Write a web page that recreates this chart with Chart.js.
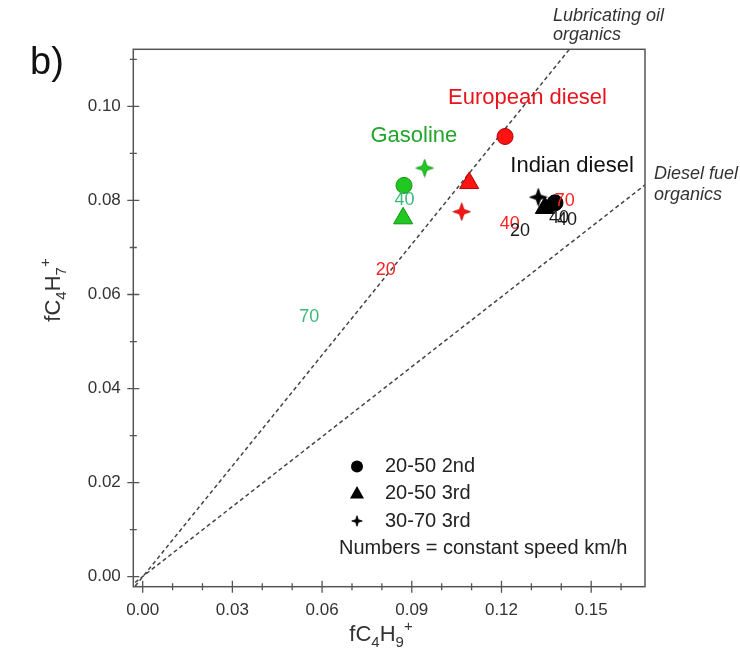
<!DOCTYPE html>
<html>
<head>
<meta charset="utf-8">
<script src="https://cdn.jsdelivr.net/npm/chart.js@4.4.1/dist/chart.umd.min.js"></script>
<style>
    html, body { margin: 0; padding: 0; background: #fff; }
</style>
</head>
<body>
<canvas id="scatterChart" width="740" height="661"></canvas>
<script>
//============================================= Data =============================================//
const xTicks = [0, 0.03, 0.06, 0.09, 0.12, 0.15];
const yTicks = [0, 0.02, 0.04, 0.06, 0.08, 0.10];
const xMinor = [0.01, 0.02, 0.04, 0.05, 0.07, 0.08, 0.10, 0.11, 0.13, 0.14, 0.16];
const yMinor = [0.01, 0.03, 0.05, 0.07, 0.09, 0.11];

// point order in each fuel: 20-50 2nd, 20-50 3rd, 30-70 3rd
const fuels = ['European diesel', 'Gasoline', 'Indian diesel'];
const europeanX = [0.1212, 0.1092, 0.1067];
const europeanY = [0.0936, 0.0837, 0.0776];
const gasolineX = [0.0874, 0.0871, 0.0943];
const gasolineY = [0.0832, 0.0762, 0.0869];
const indianX = [0.1379, 0.1345, 0.1323];
const indianY = [0.0795, 0.0784, 0.0807];

// constant speed labels (km/h), fuel index gives the colour
const speedText = ['70', '40', '40', '40', '20', '40', '20', '70'];
const speedX = [0.1412, 0.1392, 0.1419, 0.1228, 0.1262, 0.0876, 0.0813, 0.0557];
const speedY = [0.0799, 0.0763, 0.0758, 0.0750, 0.0734, 0.0801, 0.0652, 0.0552];
const speedFuel = [0, 2, 2, 0, 2, 1, 0, 1];

// fuel name positions
const fuelLabelX = [0.1287, 0.0907, 0.1436];
const fuelLabelY = [0.1017, 0.0937, 0.0873];

// reference lines
const lubOilX = [-0.0025, 0.1428];
const lubOilY = [-0.0020, 0.1122];
const dieselFuelX = [-0.0025, 0.168];
const dieselFuelY = [-0.0012, 0.0833];

const legendText = ['20-50 2nd', '20-50 3rd', '30-70 3rd'];

//============================================= Styles =============================================//
const FONT = "'Liberation Sans', Arial, sans-serif";
const markerFill = ['#ff1212', '#22c822', '#000000'];
const markerEdge = ['#b00000', '#109010', '#000000'];
const fuelColor = ['#e8141c', '#22a52a', '#111111'];
const speedColor = ['#ff2424', '#3cb878', '#1a1a1a'];

function starImage(size, fill, edge) {
    const c = document.createElement('canvas');
    c.width = c.height = size;
    const ctx = c.getContext('2d');
    const m = size / 2, R = size / 2 - 0.7, r = R * 0.36;
    ctx.beginPath();
    for (let i = 0; i < 8; i++) {
        const a = i * Math.PI / 4 - Math.PI / 2;
        const rad = i % 2 ? r : R;
        ctx.lineTo(m + rad * Math.cos(a), m + rad * Math.sin(a));
    }
    ctx.closePath();
    ctx.fillStyle = fill;
    ctx.fill();
    ctx.lineWidth = 0.8;
    ctx.strokeStyle = edge;
    ctx.stroke();
    return c;
}

const toPoints = (xs, ys) => xs.map((x, i) => ({ x: x, y: ys[i] }));

function fuelDataset(i, xs, ys) {
    return {
        type: 'scatter',
        label: fuels[i],
        data: toPoints(xs, ys),
        pointStyle: ['circle', 'triangle', starImage(19, markerFill[i], markerEdge[i])],
        pointRadius: [8, 11, 9],
        backgroundColor: markerFill[i],
        borderColor: markerEdge[i],
        borderWidth: 1,
        order: 1
    };
}

function refLine(xs, ys) {
    return {
        type: 'line',
        data: toPoints(xs, ys),
        borderColor: '#444',
        borderWidth: 1.5,
        borderDash: [4, 3],
        pointRadius: 0,
        fill: false,
        order: 2
    };
}

//============================================= Decorations =============================================//
function drawFormula(ctx, parts, size) {
    // parts: [text, 0 normal | 1 subscript | 2 superscript], drawn centred on 0,0
    const small = Math.round(size * 0.68);
    let width = 0;
    parts.forEach(p => {
        ctx.font = (p[1] ? small : size) + 'px ' + FONT;
        width += ctx.measureText(p[0]).width;
    });
    let x = -width / 2;
    ctx.textAlign = 'left';
    ctx.textBaseline = 'alphabetic';
    parts.forEach(p => {
        ctx.font = (p[1] ? small : size) + 'px ' + FONT;
        const dy = p[1] === 1 ? size * 0.28 : (p[1] === 2 ? -size * 0.45 : 0);
        ctx.fillText(p[0], x, size * 0.36 + dy);
        x += ctx.measureText(p[0]).width;
    });
}

const decor = {
    id: 'decor',
    afterDraw(chart) {
        const { ctx, chartArea: a, scales } = chart;
        const sx = scales.x, sy = scales.y;
        ctx.save();

        // frame
        ctx.strokeStyle = '#555';
        ctx.lineWidth = 1.5;
        ctx.strokeRect(a.left, a.top, a.right - a.left, a.bottom - a.top);

        // tick marks crossing the axes
        ctx.lineWidth = 1.3;
        ctx.beginPath();
        xTicks.forEach(v => { const p = sx.getPixelForValue(v); ctx.moveTo(p, a.bottom - 6); ctx.lineTo(p, a.bottom + 6); });
        xMinor.forEach(v => { const p = sx.getPixelForValue(v); ctx.moveTo(p, a.bottom - 3.5); ctx.lineTo(p, a.bottom + 3.5); });
        yTicks.forEach(v => { const p = sy.getPixelForValue(v); ctx.moveTo(a.left - 6, p); ctx.lineTo(a.left + 6, p); });
        yMinor.forEach(v => { const p = sy.getPixelForValue(v); ctx.moveTo(a.left - 3.5, p); ctx.lineTo(a.left + 3.5, p); });
        ctx.stroke();

        // speed numbers
        ctx.textAlign = 'center';
        ctx.textBaseline = 'middle';
        ctx.font = '18px ' + FONT;
        speedText.forEach((t, i) => {
            ctx.fillStyle = speedColor[speedFuel[i]];
            ctx.fillText(t, sx.getPixelForValue(speedX[i]), sy.getPixelForValue(speedY[i]));
        });

        // fuel names
        ctx.font = '22px ' + FONT;
        fuels.forEach((t, i) => {
            ctx.fillStyle = fuelColor[i];
            ctx.fillText(t, sx.getPixelForValue(fuelLabelX[i]), sy.getPixelForValue(fuelLabelY[i]));
        });

        // legend
        const lx = 357, ly = [466.5, 493.5, 521];
        ctx.fillStyle = '#000';
        ctx.beginPath();
        ctx.arc(lx, ly[0], 6, 0, Math.PI * 2);
        ctx.fill();
        ctx.beginPath();
        ctx.moveTo(lx, ly[1] - 7.5);
        ctx.lineTo(lx + 7, ly[1] + 5);
        ctx.lineTo(lx - 7, ly[1] + 5);
        ctx.closePath();
        ctx.fill();
        ctx.drawImage(starImage(12, '#000', '#000'), lx - 6, ly[2] - 6);

        ctx.fillStyle = '#222';
        ctx.font = '20px ' + FONT;
        ctx.textAlign = 'left';
        legendText.forEach((t, i) => ctx.fillText(t, 385, ly[i]));
        ctx.fillText('Numbers = constant speed km/h', 339, 548.5);

        // axis titles
        ctx.fillStyle = '#333';
        ctx.save();
        ctx.translate(381, 633);
        drawFormula(ctx, [['fC', 0], ['4', 1], ['H', 0], ['9', 1], ['+', 2]], 22);
        ctx.restore();
        ctx.save();
        ctx.translate(52, 290);
        ctx.rotate(-Math.PI / 2);
        drawFormula(ctx, [['fC', 0], ['4', 1], ['H', 0], ['7', 1], ['+', 2]], 22);
        ctx.restore();

        // panel letter and line notes
        ctx.fillStyle = '#111';
        ctx.textBaseline = 'middle';
        ctx.textAlign = 'left';
        ctx.font = '38px ' + FONT;
        ctx.fillText('b)', 30, 64);

        ctx.fillStyle = '#333';
        ctx.font = 'italic 18px ' + FONT;
        ctx.fillText('Lubricating oil', 553, 16);
        ctx.fillText('organics', 553, 35);
        ctx.fillText('Diesel fuel', 654, 174);
        ctx.fillText('organics', 654, 195);

        ctx.restore();
    }
};

//============================================= Chart =============================================//
const tickFont = { family: FONT, size: 17 };

new Chart(document.getElementById('scatterChart'), {
    type: 'scatter',
    data: {
        datasets: [
            refLine(lubOilX, lubOilY),
            refLine(dieselFuelX, dieselFuelY),
            fuelDataset(0, europeanX, europeanY),
            fuelDataset(1, gasolineX, gasolineY),
            fuelDataset(2, indianX, indianY)
        ]
    },
    options: {
        responsive: false,
        animation: false,
        devicePixelRatio: 1,
        layout: { padding: { top: 49.3, right: 95, bottom: 0, left: 0 } },
        plugins: {
            legend: { display: false },
            tooltip: { enabled: false }
        },
        scales: {
            x: {
                type: 'linear',
                min: -0.00314,
                max: 0.168,
                afterBuildTicks: s => { s.ticks = xTicks.map(v => ({ value: v })); },
                afterFit: s => { s.height = 74.3; },
                grid: { display: false, drawTicks: false },
                border: { display: false },
                ticks: {
                    padding: 13,
                    color: '#333',
                    font: tickFont,
                    maxRotation: 0,
                    autoSkip: false,
                    callback: v => v.toFixed(2)
                }
            },
            y: {
                type: 'linear',
                min: -0.00213,
                max: 0.11214,
                afterBuildTicks: s => { s.ticks = yTicks.map(v => ({ value: v })); },
                afterFit: s => { s.width = 133.3; },
                grid: { display: false, drawTicks: false },
                border: { display: false },
                ticks: {
                    padding: 12.5,
                    color: '#333',
                    font: tickFont,
                    autoSkip: false,
                    callback: v => v.toFixed(2)
                }
            }
        }
    },
    plugins: [decor]
});
</script>
</body>
</html>
